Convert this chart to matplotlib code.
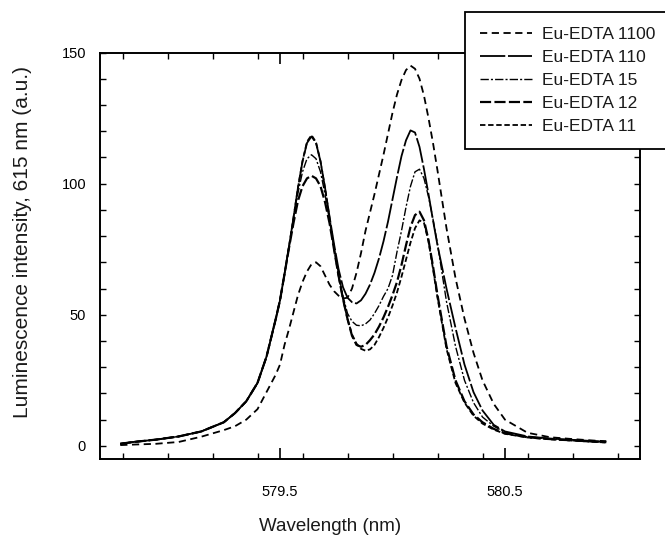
import matplotlib
matplotlib.use("Agg")
import matplotlib.pyplot as plt
from matplotlib.ticker import FixedLocator, MultipleLocator

plt.rcParams['font.family'] = ['Liberation Sans', 'DejaVu Sans']

# emission spectra, 7F0 <- 5D0 region (nm vs a.u.)
wavelength = [578.79, 578.85, 578.95, 579.05, 579.15, 579.25, 579.30, 579.35, 579.40, 579.44,
              579.48, 579.50, 579.52, 579.54, 579.56, 579.58, 579.60, 579.62, 579.64, 579.66,
              579.68, 579.70, 579.72, 579.74, 579.76, 579.78, 579.80, 579.82, 579.84, 579.86,
              579.88, 579.90, 579.92, 579.94, 579.96, 579.98, 580.00, 580.02, 580.04, 580.06,
              580.08, 580.10, 580.12, 580.14, 580.16, 580.18, 580.20, 580.24, 580.28, 580.32,
              580.36, 580.40, 580.45, 580.50, 580.60, 580.70, 580.80, 580.90, 580.95]

edta_1100 = [0.3, 0.5, 0.8, 1.5, 3.5, 6.0, 7.5, 10.0, 14.0, 20.5,
             27.0, 31.0, 38.5, 44.5, 51.0, 57.5, 62.5, 66.5, 69.3, 70.0,
             68.5, 65.0, 61.5, 59.0, 57.3, 56.2, 56.5, 60.0, 66.0, 73.5,
             82.0, 89.0, 96.0, 103.5, 111.0, 119.0, 127.0, 134.0, 139.5, 143.3,
             145.0, 143.8, 140.0, 133.5, 125.0, 115.5, 105.0, 83.0, 64.0, 48.5,
             35.5, 25.0, 16.0, 10.0, 5.0, 3.3, 2.6, 2.0, 1.8]

edta_110 = [0.8, 1.5, 2.4, 3.6, 5.5, 9.0, 12.5, 17.0, 24.0, 34.0,
            48.0, 55.5, 65.5, 76.0, 87.0, 98.5, 108.5, 115.5, 118.0, 115.5,
            108.5, 98.5, 87.5, 77.0, 67.5, 60.5, 56.5, 54.8, 54.3, 55.5,
            58.0, 61.5, 66.0, 71.5, 78.0, 85.5, 94.0, 102.5, 110.5, 116.5,
            120.3, 119.5, 114.0, 105.5, 96.0, 86.0, 76.5, 60.0, 45.0, 31.0,
            20.5, 13.5, 8.0, 5.5, 3.6, 2.8, 2.3, 1.8, 1.6]

edta_15 = [0.8, 1.5, 2.4, 3.6, 5.5, 9.0, 12.5, 17.0, 24.0, 34.0,
           48.0, 55.5, 65.5, 76.0, 86.5, 96.5, 104.5, 109.5, 111.0, 109.5,
           104.5, 96.0, 86.0, 75.5, 65.5, 57.0, 50.5, 47.5, 46.0, 45.8,
           46.5, 48.0, 50.5, 53.5, 57.0, 60.0, 65.0, 74.0, 82.0, 91.0,
           99.0, 104.5, 105.5, 102.0, 95.0, 86.5, 77.0, 55.0, 38.0, 25.0,
           16.5, 11.0, 7.5, 5.2, 3.4, 2.7, 2.2, 1.7, 1.5]

edta_12 = [0.8, 1.5, 2.4, 3.6, 5.5, 9.0, 12.5, 17.0, 24.0, 34.0,
           48.0, 55.5, 65.5, 75.5, 85.0, 93.5, 99.0, 102.0, 103.0, 102.0,
           99.0, 93.0, 85.0, 75.0, 65.0, 56.0, 48.4, 42.0, 38.5, 37.8,
           38.5, 40.3, 42.5, 45.5, 49.0, 53.0, 57.5, 62.5, 69.0, 76.5,
           83.5, 88.0, 89.3, 86.0, 78.5, 68.5, 57.5, 38.0, 25.0, 17.0,
           12.0, 9.0, 6.5, 4.8, 3.3, 2.6, 2.1, 1.6, 1.4]

edta_11 = [0.8, 1.5, 2.4, 3.6, 5.5, 9.0, 12.5, 17.0, 24.0, 34.0,
           48.0, 55.5, 65.5, 76.0, 87.0, 98.5, 108.5, 116.0, 118.5, 115.8,
           108.5, 98.3, 87.0, 75.5, 65.0, 56.0, 48.4, 42.5, 39.0, 37.0,
           36.3, 36.8, 38.5, 41.5, 45.0, 49.0, 53.5, 58.5, 64.5, 71.0,
           77.5, 83.0, 86.0, 85.0, 78.0, 67.5, 56.5, 37.0, 24.0, 16.5,
           11.5, 8.5, 6.2, 4.6, 3.2, 2.5, 2.0, 1.5, 1.3]

labels = ['Eu-EDTA 1100', 'Eu-EDTA 110', 'Eu-EDTA 15', 'Eu-EDTA 12', 'Eu-EDTA 11']
series = [edta_1100, edta_110, edta_15, edta_12, edta_11]
styles = [((0, (4, 2.5)), 1.3),
          ((0, (14, 1.5)), 1.3),
          ((0, (6, 1.5, 1.5, 1.5)), 1.0),
          ((0, (5, 1.5)), 1.6),
          ((0, (3, 1.5)), 1.3)]

fig = plt.figure(figsize=(6.65, 5.41), dpi=100)
ax = fig.add_axes([100 / 665, 1 - 459 / 541, 540 / 665, 406.5 / 541])

for ys, lab, (ls, lw) in zip(series, labels, styles):
    ax.plot(wavelength, ys, color='black', linestyle=ls, linewidth=lw, label=lab)

ax.set_xlim(578.7, 581.1)
ax.set_ylim(-5, 150)

ax.xaxis.set_major_locator(FixedLocator([579.5, 580.5]))
ax.xaxis.set_minor_locator(MultipleLocator(0.2))
ax.set_xticklabels(['579.5', '580.5'])
ax.yaxis.set_major_locator(MultipleLocator(50))
ax.yaxis.set_minor_locator(MultipleLocator(10))

ax.tick_params(which='both', direction='in', top=True, right=True, color='black')
ax.tick_params(axis='x', which='major', length=8, width=1.2, pad=19, labelsize=10.5)
ax.tick_params(axis='x', which='minor', length=4.5, width=1.0)
ax.tick_params(axis='y', which='major', length=4.5, width=1.0, pad=10, labelsize=10.5)
ax.tick_params(axis='y', which='minor', length=4, width=1.0)
for sp in ax.spines.values():
    sp.set_linewidth(1.4)

ax.set_xlabel('Wavelength (nm)', fontsize=13.5, color='#1a1a1a')
ax.set_ylabel('Luminescence intensity, 615 nm (a.u.)', fontsize=15, color='#1a1a1a')
ax.xaxis.set_label_coords(0.426, -0.145)
ax.yaxis.set_label_coords(-0.125, 0.533)

# legend box runs off the right edge of the figure
leg = fig.legend(loc='upper left', bbox_to_anchor=(465 / 665, 0, 0.4, 1 - 12 / 541),
                 bbox_transform=fig.transFigure, mode='expand', borderaxespad=0,
                 fontsize=12.5, handlelength=3.0, handletextpad=0.6, labelspacing=0.45,
                 borderpad=0.85, fancybox=False, framealpha=1, edgecolor='black')
leg.get_frame().set_linewidth(1.3)
for t in leg.get_texts():
    t.set_color('#1a1a1a')

fig.savefig('out.png', dpi=100)
